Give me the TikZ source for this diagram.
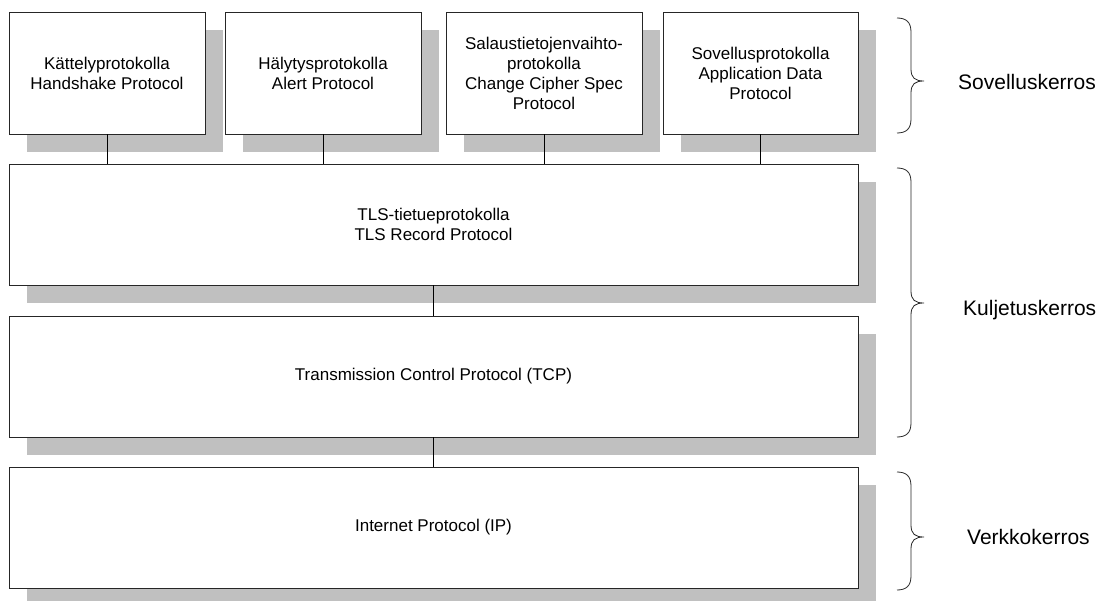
\documentclass[tikz,border=0pt]{standalone}
\usepackage{fontspec}
\setmainfont{Liberation Sans}
\usetikzlibrary{shadows}
\definecolor{shadowgray}{RGB}{192,192,192}

% curly brace opening to the right: #1 top y, #2 bottom y, #3 tip y
\newcommand\layerbrace[3]{%
  \draw[bracepath] (897,#1) .. controls (906,#1) and (911,#1+4) .. (911,#1+14)
    -- (911,#3-12) .. controls (911,#3-3) and (915,#3) .. (924,#3)
    .. controls (915,#3) and (911,#3+3) .. (911,#3+12)
    -- (911,#2-14) .. controls (911,#2-4) and (906,#2) .. (897,#2);}

\begin{document}
\begin{tikzpicture}[x=1pt,y=-1pt,
  layerbox/.style={rectangle, draw=black!85, line width=0.9pt, fill=white,
    inner sep=0pt, align=center, font=\fontsize{17}{20}\selectfont,
    general shadow={fill=shadowgray, shadow xshift=18pt, shadow yshift=-18pt}},
  smallbox/.style={layerbox, minimum width=196pt, minimum height=122pt},
  widebox/.style={layerbox, minimum width=849pt, minimum height=121pt},
  link/.style={draw=black, line width=0.9pt},
  bracepath/.style={draw=black!85, line width=0.8pt},
  layerlabel/.style={anchor=base west, inner sep=0pt, font=\fontsize{21}{25}\selectfont}]
\useasboundingbox (0,0) rectangle (1100,601);

% application layer protocols
\node[smallbox] (hs) at (107,73) {Kättelyprotokolla\\Handshake Protocol};
\node[smallbox] (al) at (323,73) {Hälytysprotokolla\\Alert Protocol};
\node[smallbox] (cc) at (544,73) {Salaustietojenvaihto-\\protokolla\\Change Cipher Spec\\Protocol};
\node[smallbox, minimum width=195pt] (ad) at (760.5,73) {Sovellusprotokolla\\Application Data\\Protocol};

% lower layers
\node[widebox] (tls) at (433.5,224.5) {TLS-tietueprotokolla\\TLS Record Protocol};
\node[widebox] (tcp) at (433.5,376.5) {Transmission Control Protocol (TCP)};
\node[widebox] (ip) at (433.5,527.5) {Internet Protocol (IP)};

% connections between layers
\draw[link] (hs.south) -- (hs.south |- tls.north);
\draw[link] (al.south) -- (al.south |- tls.north);
\draw[link] (cc.south) -- (cc.south |- tls.north);
\draw[link] (ad.south) -- (ad.south |- tls.north);
\draw[link] (tls.south) -- (tcp.north);
\draw[link] (tcp.south) -- (ip.north);

% layer braces and names
\layerbrace{18}{133}{81}
\layerbrace{168}{437}{303}
\layerbrace{472}{590}{537}
\node[layerlabel] (app) at (958,90) {Sovelluskerros};
\node[layerlabel] (trn) at (963,316) {Kuljetuskerros};
\node[layerlabel] (net) at (967,544) {Verkkokerros};
\end{tikzpicture}
\end{document}
